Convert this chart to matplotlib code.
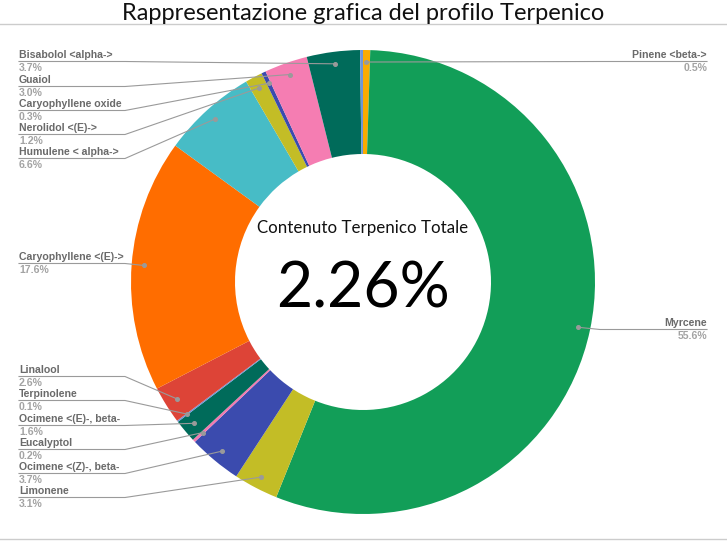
"""Profilo terpenico - donut chart."""
import matplotlib
matplotlib.use('Agg')
import matplotlib.pyplot as plt
import numpy as np

plt.rcParams['font.family'] = ['Liberation Sans', 'DejaVu Sans']

W, H = 727, 545

# data: clockwise from 12 o'clock
names = ['Pinene <beta->', 'Myrcene', 'Limonene', 'Ocimene <(Z)-, beta-',
         'Eucalyptol', 'Ocimene <(E)-, beta-', 'Terpinolene', 'Linalool',
         'Caryophyllene <(E)->', 'Humulene < alpha->', 'Nerolidol <(E)->',
         'Caryophyllene oxide', 'Guaiol', 'Bisabolol <alpha->', '']
values = [0.5, 55.6, 3.1, 3.7, 0.2, 1.6, 0.1, 2.6, 17.6, 6.6, 1.2, 0.3, 3.0, 3.7, 0.2]
colors = ['#f9ab00', '#129e58', '#c3bd26', '#3b4bae', '#f07bb0', '#006b5a',
          '#6f95d8', '#dd4437', '#ff6d00', '#47bcc6', '#c3bd26', '#3b4bae',
          '#f57db2', '#006b5a', '#6f95d8']
total_label = '2.26%'

# label layout (pixel rows from top), side
label_rows = {
    'Bisabolol <alpha->': (55, 'L'), 'Guaiol': (80, 'L'),
    'Caryophyllene oxide': (104, 'L'), 'Nerolidol <(E)->': (128, 'L'),
    'Humulene < alpha->': (152, 'L'), 'Caryophyllene <(E)->': (257, 'L'),
    'Linalool': (370, 'L'), 'Terpinolene': (394, 'L'),
    'Ocimene <(E)-, beta-': (419, 'L'), 'Eucalyptol': (443, 'L'),
    'Ocimene <(Z)-, beta-': (467, 'L'), 'Limonene': (491, 'L'),
    'Pinene <beta->': (55, 'R'), 'Myrcene': (323, 'R'),
}

CX, CY, R_OUT, R_IN = 363, 282, 232, 128

fig = plt.figure(figsize=(W / 100, H / 100), dpi=100)
ax = fig.add_axes([0, 0, 1, 1])

wedges, _ = ax.pie(values, colors=colors, startangle=90, counterclock=False,
                   radius=R_OUT, center=(CX, H - CY),
                   wedgeprops=dict(width=R_OUT - R_IN, edgecolor='none'))
ax.set_xlim(0, W)
ax.set_ylim(0, H)
ax.set_aspect('equal')
ax.axis('off')

name_col, pct_col, line_col = '#6a6a6a', '#a3a3a3', '#9a9a9a'
for w, nm, v in zip(wedges, names, values):
    if nm not in label_rows:
        continue
    ny, side = label_rows[nm]
    mid = np.radians((w.theta1 + w.theta2) / 2)
    dx, dy = CX + 220 * np.cos(mid), (H - CY) + 220 * np.sin(mid)
    uy = H - (ny + 6.5)
    if side == 'L':
        xs, ha, bend = 19, 'left', 125
    else:
        xs, ha, bend = 707, 'right', 600
    ax.plot([xs, bend, dx], [uy, uy, dy], color=line_col, lw=0.8, zorder=5)
    ax.plot(dx, dy, 'o', color=line_col, markersize=2.6, zorder=6)
    ax.text(xs, H - ny, nm, ha=ha, va='center', fontsize=7.6, fontweight='bold', color=name_col)
    ax.text(xs, H - ny - 13, f'{v:.1f}%', ha=ha, va='center', fontsize=7.6,
            fontweight='bold', color=pct_col)

# title + rules
ax.text(W / 2, H - 13, 'Rappresentazione grafica del profilo Terpenico', ha='center',
        va='center', fontsize=17, family=['Lato', 'DejaVu Sans'], color='#111111')
ax.plot([0, W], [H - 24, H - 24], color='#cccccc', lw=1)
ax.plot([0, W], [H - 539, H - 539], color='#cccccc', lw=1)

# centre text
ax.text(CX, H - 228, 'Contenuto Terpenico Totale', ha='center', va='center',
        fontsize=12.2, family=['Lato', 'DejaVu Sans'], color='#111111')
ax.text(CX, H - 290, total_label, ha='center', va='center', fontsize=45,
        family=['Lato', 'DejaVu Sans'], color='#000000')

fig.savefig('out.png', dpi=100)
